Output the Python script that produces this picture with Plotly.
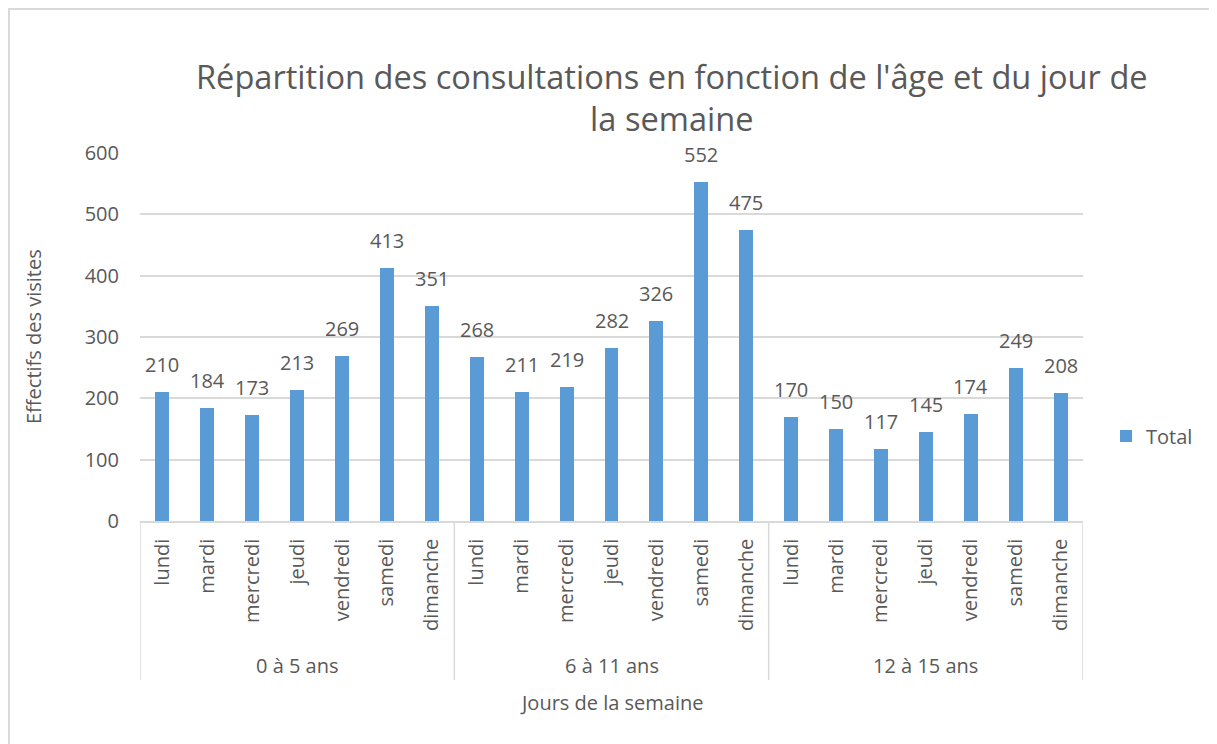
import plotly.graph_objects as go

groups = ["0 à 5 ans", "6 à 11 ans", "12 à 15 ans"]
days = ["lundi", "mardi", "mercredi", "jeudi", "vendredi", "samedi", "dimanche"]
values_0_5 = [210, 184, 173, 213, 269, 413, 351]
values_6_11 = [268, 211, 219, 282, 326, 552, 475]
values_12_15 = [170, 150, 117, 145, 174, 249, 208]
series = [values_0_5, values_6_11, values_12_15]

FONT = "Open Sans"
TXT = "#595959"
GRID = "#d9d9d9"
BAR = "#5B9BD5"

xs, ys, labels = [], [], []
for g, vals in enumerate(series):
    for d, v in enumerate(vals):
        xs.append(g * len(days) + d)
        ys.append(v)
        labels.append(days[d])

fig = go.Figure()
fig.add_trace(go.Bar(
    x=xs, y=ys, name="Total", width=0.31,
    marker=dict(color=BAR, line=dict(width=0)),
    showlegend=True,
))

# data labels
for x, y in zip(xs, ys):
    fig.add_annotation(x=x, y=y, text=str(y), showarrow=False, yanchor="bottom",
                       yshift=12, font=dict(family=FONT, size=20, color=TXT))

# plot area in screen px: x 140..1083, y 153..521
W = 943.0
H = 368.0
n = len(days)
for g in range(len(groups) + 1):
    fig.add_shape(type="line", xref="x", yref="paper",
                  x0=g * n - 0.5, x1=g * n - 0.5, y0=0, y1=-(680 - 521) / H,
                  line=dict(color=GRID, width=1.5))
for g, name in enumerate(groups):
    fig.add_annotation(x=g * n + (n - 1) / 2, xref="x", y=-(665 - 521) / H, yref="paper",
                       text=name, showarrow=False, yanchor="middle",
                       font=dict(family=FONT, size=20, color=TXT))

# axis title x
fig.add_annotation(x=0.5, xref="paper", y=-(702 - 521) / H, yref="paper",
                   text="Jours de la semaine", showarrow=False, yanchor="middle",
                   font=dict(family=FONT, size=20, color=TXT))
# axis title y
fig.add_annotation(x=(33 - 140) / W, xref="paper", y=0.5, yref="paper",
                   text="Effectifs des visites", showarrow=False, textangle=-90,
                   xanchor="center", yanchor="middle",
                   font=dict(family=FONT, size=20, color=TXT))
# title
fig.add_annotation(x=(672 - 140) / W, xref="paper", y=(521 - 97) / H, yref="paper",
                   text="Répartition des consultations en fonction de l'âge et du jour de<br>la semaine",
                   showarrow=False, xanchor="center", yanchor="middle",
                   font=dict(family=FONT, size=32.6, color=TXT))

# chart border
fig.add_shape(type="rect", xref="paper", yref="paper",
              x0=(9 - 140) / W, x1=(1260 - 140) / W,
              y0=(521 - 790) / H, y1=(521 - 9) / H,
              line=dict(color=GRID, width=2), layer="below")

fig.update_layout(
    width=1209, height=736,
    margin=dict(l=132, r=134, t=145, b=223),
    paper_bgcolor="white", plot_bgcolor="white",
    font=dict(family=FONT, size=20, color=TXT),
    bargap=0,
    legend=dict(x=(1106 - 140) / W, y=(521 - 436) / H, xanchor="left", yanchor="middle",
                font=dict(family=FONT, size=20, color=TXT), bgcolor="rgba(0,0,0,0)"),
    xaxis=dict(
        range=[-0.5, len(xs) - 0.5],
        tickmode="array", tickvals=xs, ticktext=labels, tickangle=-90,
        ticks="", ticklabelstandoff=8,
        showgrid=False, showline=True, linecolor=GRID, linewidth=1.5,
        zeroline=False, automargin=False,
        tickfont=dict(family=FONT, size=20, color=TXT),
    ),
    yaxis=dict(
        range=[0, 600], dtick=100, tick0=0,
        showgrid=True, gridcolor=GRID, gridwidth=1.5,
        showline=False, zeroline=False, ticks="", ticklabelstandoff=20,
        automargin=False,
        tickfont=dict(family=FONT, size=20, color=TXT),
    ),
)

fig.write_html("out.html")
